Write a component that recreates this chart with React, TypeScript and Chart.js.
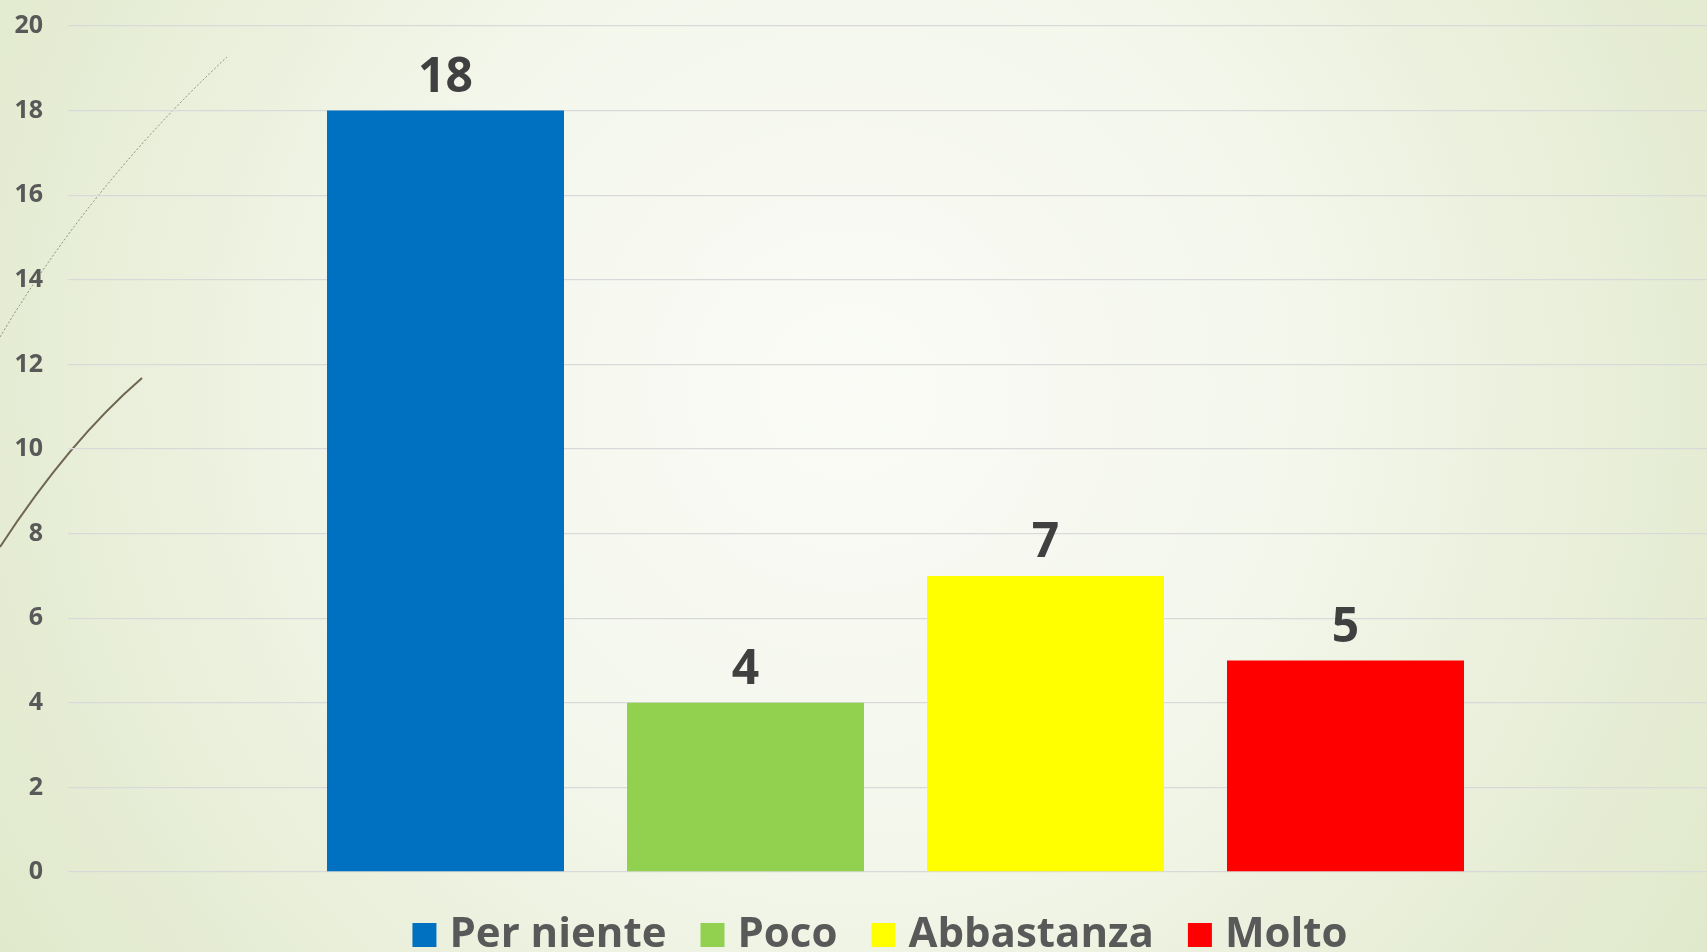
import React, { useEffect, useRef } from "react";
import { Chart, registerables } from "chart.js";

Chart.register(...registerables);

// ---- data ----
const categories = [""];
const seriesLabels = ["Per niente", "Poco", "Abbastanza", "Molto"];
const seriesValues = [18, 4, 7, 5];
const seriesColors = ["#0070C0", "#92D050", "#FFFF00", "#FF0000"];
const yMin = 0;
const yMax = 20;
const yStep = 2;

// ---- layout / style ----
const W = 1723;
const H = 966;
const FONT = "'Open Sans', sans-serif";

const backgroundPlugin = {
  id: "bgDecor",
  afterLayout(chart: any) {
    // center the legend under the slide content
    if (chart.legend) chart.legend.left = 45;
  },
  beforeDraw(chart: any) {
    const { ctx, width, height } = chart;
    ctx.save();
    const g = ctx.createRadialGradient(850, 390, 0, 850, 390, 1020);
    g.addColorStop(0, "#fafbf6");
    g.addColorStop(0.43, "#f4f7ec");
    g.addColorStop(0.84, "#e5ecd3");
    g.addColorStop(1, "#e1e9cc");
    ctx.fillStyle = g;
    ctx.fillRect(0, 0, width, height);

    // decorative wisps of the slide theme
    ctx.beginPath();
    ctx.setLineDash([2, 2]);
    ctx.strokeStyle = "rgba(120,120,100,0.85)";
    ctx.lineWidth = 1;
    ctx.moveTo(0, 337);
    ctx.quadraticCurveTo(92, 183, 227, 57);
    ctx.stroke();

    ctx.beginPath();
    ctx.setLineDash([]);
    ctx.strokeStyle = "#6e6650";
    ctx.lineWidth = 2;
    ctx.moveTo(0, 547);
    ctx.quadraticCurveTo(69, 441, 142, 378);
    ctx.stroke();
    ctx.restore();
  },
};

const valueLabelPlugin = {
  id: "valueLabels",
  afterDatasetsDraw(chart: any) {
    const { ctx } = chart;
    ctx.save();
    ctx.font = `700 48px ${FONT}`;
    ctx.fillStyle = "#404040";
    ctx.textAlign = "center";
    ctx.textBaseline = "alphabetic";
    chart.data.datasets.forEach((ds: any, i: number) => {
      const meta = chart.getDatasetMeta(i);
      meta.data.forEach((bar: any, j: number) => {
        ctx.fillText(String(ds.data[j]), bar.x, bar.y - 19);
      });
    });
    ctx.restore();
  },
};

export default function App() {
  const ref = useRef<HTMLCanvasElement | null>(null);

  useEffect(() => {
    document.body.style.overflow = "hidden";
    const canvas = ref.current;
    if (!canvas) return;
    const chart = new Chart(canvas, {
      type: "bar",
      data: {
        labels: categories,
        datasets: seriesLabels.map((label, i) => ({
          label,
          data: [seriesValues[i]],
          backgroundColor: seriesColors[i],
          borderWidth: 0,
          categoryPercentage: 1200 / 1655,
          barPercentage: 0.79,
        })),
      },
      options: {
        responsive: false,
        maintainAspectRatio: false,
        animation: false,
        devicePixelRatio: 1,
        layout: { padding: { left: 0, top: 26, right: 0, bottom: 0 } },
        plugins: {
          tooltip: { enabled: false },
          legend: {
            display: true,
            position: "bottom",
            align: "center",
            labels: {
              font: { family: FONT, size: 42, weight: "700" },
              color: "#595959",
              padding: 42,
              usePointStyle: true,
              pointStyle: "rect",
              boxWidth: 8,
              boxHeight: 24,
            },
          },
        },
        scales: {
          x: {
            display: false,
          },
          y: {
            min: yMin,
            max: yMax,
            ticks: {
              stepSize: yStep,
              padding: 0,
              color: "#595959",
              font: { family: FONT, size: 25, weight: "700" },
            },
            grid: {
              color: "#d9d9d9",
              lineWidth: 1.3,
              drawTicks: true,
              tickLength: 25,
              tickColor: "rgba(0,0,0,0)",
            },
            border: { display: false },
            afterFit(scale: any) {
              scale.width = 68;
            },
          },
        },
      },
      plugins: [backgroundPlugin, valueLabelPlugin],
    } as any);
    return () => chart.destroy();
  }, []);

  return (
    <div style={{ position: "fixed", left: 0, top: 0, width: W, height: H }}>
      <canvas ref={ref} width={W} height={H} style={{ width: W, height: H, display: "block" }} />
    </div>
  );
}
